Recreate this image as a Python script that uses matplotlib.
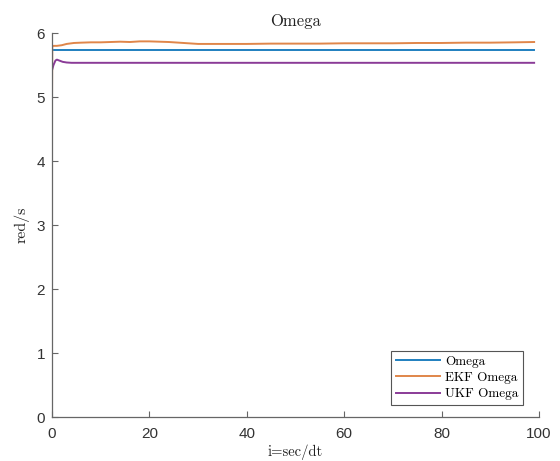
import matplotlib.pyplot as plt

# time index (i = sec/dt) and angular rate estimates
t_true = [0, 99]
omega_true = [5.73, 5.73]

t_ekf = [0, 0.05, 0.3, 1, 2, 3, 4.5, 6, 8, 10, 12, 14, 16, 18, 20, 22, 24,
         26, 28, 30, 35, 40, 45, 50, 55, 60, 65, 70, 75, 80, 85, 90, 95, 99]
omega_ekf = [5.0, 5.79, 5.80, 5.80, 5.81, 5.83, 5.845, 5.85, 5.855, 5.855,
             5.86, 5.865, 5.86, 5.87, 5.87, 5.865, 5.86, 5.85, 5.84, 5.83,
             5.83, 5.83, 5.835, 5.835, 5.835, 5.84, 5.84, 5.84, 5.845, 5.845,
             5.85, 5.85, 5.855, 5.86]

t_ukf = [0, 0.3, 0.7, 1.0, 1.5, 2.2, 3, 4, 6, 99]
omega_ukf = [5.42, 5.50, 5.57, 5.585, 5.57, 5.55, 5.54, 5.535, 5.535, 5.535]

series = [
    (t_true, omega_true, 'Omega', '#1f7fbf'),
    (t_ekf, omega_ekf, 'EKF Omega', '#e0864a'),
    (t_ukf, omega_ukf, 'UKF Omega', '#8a3b97'),
]

serif = 'cmr10'
fig = plt.figure(figsize=(5.6, 4.61), dpi=100)
ax = fig.add_axes([0.0929, 0.0954, 0.8696, 0.8329])

for t, w, name, color in series:
    ax.plot(t, w, color=color, linewidth=1.4, label=name)

ax.set_xlim(0, 100)
ax.set_ylim(0, 6)
ax.set_xticks(range(0, 101, 20))
ax.set_yticks(range(0, 7))

for side in ('top', 'right'):
    ax.spines[side].set_visible(False)
for side in ('left', 'bottom'):
    ax.spines[side].set_color('#666666')
    ax.spines[side].set_linewidth(0.9)

ax.tick_params(direction='in', length=4, width=0.8, color='#666666',
               labelcolor='#333333', labelsize=11)
ax.tick_params(axis='x', pad=7)
ax.tick_params(axis='y', pad=5)
for lbl in ax.get_xticklabels() + ax.get_yticklabels():
    lbl.set_fontfamily('Liberation Sans')

ax.set_title('Omega', fontfamily=serif, fontsize=12, color='#222222', pad=5)
ax.set_xlabel('i=sec/dt', fontfamily=serif, fontsize=10.5, color='#222222', labelpad=3)
ax.set_ylabel('red/s', fontfamily=serif, fontsize=11.5, color='#222222', labelpad=5)

leg = ax.legend(loc='lower right', bbox_to_anchor=(0.967, 0.031),
                prop={'family': serif, 'size': 9.5},
                fancybox=False, framealpha=1, edgecolor='#555555',
                borderpad=0.35, labelspacing=0.32, handlelength=3.3,
                handletextpad=0.4, borderaxespad=0)
leg.get_frame().set_linewidth(0.8)

fig.savefig('out.png', dpi=100)
